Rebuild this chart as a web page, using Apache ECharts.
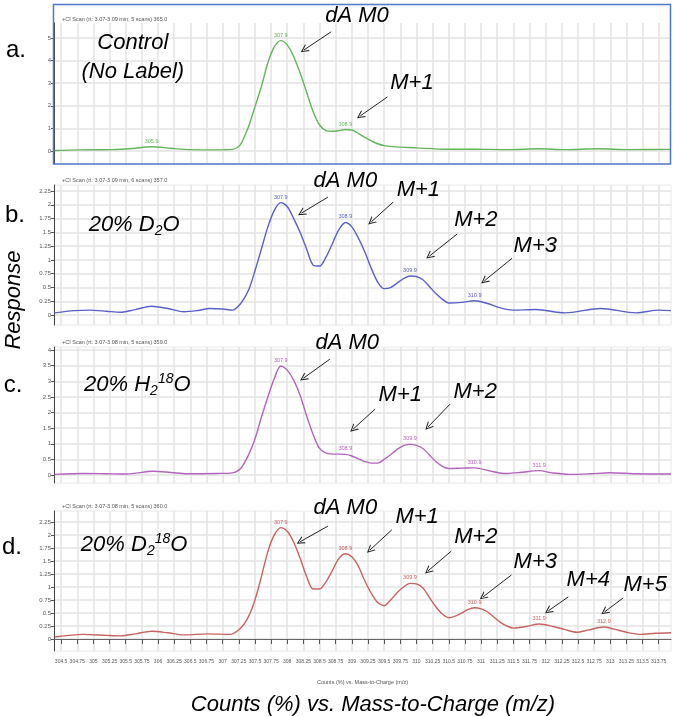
<!DOCTYPE html>
<html><head><meta charset="utf-8">
<script src="https://cdn.jsdelivr.net/npm/echarts@6/dist/echarts.min.js"></script>
<style>html,body{margin:0;padding:0;background:#fff}#c{width:675px;height:716px}</style>
</head><body><div id="c"></div><script>
// ---------- DATA ----------
const xTickLabels = ['304.5','304.75','305','305.25','305.5','305.75','306','306.25','306.5','306.75','307','307.25','307.5','307.75','308','308.25','308.5','308.75','309','309.25','309.5','309.75','310','310.25','310.5','310.75','311','311.25','311.5','311.75','312','312.25','312.5','312.75','313','313.25','313.5','313.75'];
const yTicksA = [0,1,2,3,4,5];
const yTicksB = [0,0.25,0.5,0.75,1,1.25,1.5,1.75,2,2.25];
const yTicksC = [0,0.5,1,1.5,2,2.5,3,3.5,4];
const yTicksD = [0,0.25,0.5,0.75,1,1.25,1.5,1.75,2,2.25];

// a. Control (No Label)
const mzA   = [304.4,304.8,305.3,305.6,305.9,306.2,306.5,306.9,307.15,307.25,307.3,307.4,307.5,307.6,307.7,307.8,307.9,308.0,308.1,308.2,308.3,308.4,308.5,308.6,308.7,308.8,308.9,309.0,309.1,309.2,309.3,309.4,309.5,309.7,310.0,310.4,310.9,311.4,311.9,312.3,312.8,313.3,313.94];
const respA = [0.02,0.05,0.06,0.11,0.19,0.12,0.06,0.05,0.07,0.2,0.4,1.07,1.95,2.85,3.9,4.6,4.88,4.69,4.17,3.45,2.6,1.75,1.15,0.9,0.87,0.9,0.95,0.93,0.78,0.6,0.45,0.32,0.24,0.18,0.14,0.08,0.08,0.06,0.1,0.06,0.1,0.06,0.07];
const peaksA = [305.9,307.9,308.9];

// b. 20% D2O
const mzB   = [304.4,304.7,304.95,305.2,305.42,305.65,305.9,306.15,306.4,306.6,306.8,307.0,307.15,307.28,307.4,307.5,307.6,307.7,307.8,307.9,308.0,308.1,308.2,308.3,308.4,308.5,308.6,308.7,308.8,308.9,309.0,309.1,309.2,309.3,309.4,309.5,309.6,309.7,309.8,309.9,310.0,310.1,310.2,310.3,310.4,310.5,310.7,310.9,311.1,311.3,311.5,311.85,312.3,312.85,313.4,313.75,313.94];
const respB = [0.04,0.08,0.09,0.07,0.05,0.1,0.16,0.12,0.06,0.08,0.12,0.11,0.09,0.21,0.45,0.8,1.2,1.6,1.9,2.04,1.97,1.75,1.5,1.2,0.91,0.89,1.05,1.3,1.55,1.68,1.6,1.4,1.15,0.85,0.6,0.48,0.5,0.58,0.66,0.71,0.7,0.64,0.52,0.39,0.29,0.22,0.23,0.26,0.21,0.13,0.09,0.1,0.04,0.12,0.04,0.09,0.08];
const peaksB = [307.9,308.9,309.9,310.9];

// c. 20% H2(18)O
const mzC   = [304.4,304.85,305.2,305.52,305.93,306.2,306.45,306.9,307.15,307.28,307.4,307.5,307.6,307.7,307.8,307.9,308.0,308.1,308.2,308.3,308.4,308.5,308.6,308.7,308.8,308.9,309.0,309.1,309.2,309.3,309.4,309.5,309.6,309.7,309.8,309.9,310.0,310.1,310.2,310.3,310.4,310.5,310.7,310.9,311.1,311.35,311.6,311.9,312.1,312.37,312.7,312.99,313.4,313.94];
const respC = [0.02,0.05,0.04,0.03,0.12,0.08,0.04,0.05,0.07,0.21,0.64,1.15,1.85,2.5,3.09,3.49,3.36,3.04,2.55,1.9,1.3,0.85,0.7,0.67,0.67,0.66,0.61,0.52,0.43,0.38,0.38,0.5,0.65,0.82,0.94,0.98,0.95,0.85,0.64,0.43,0.28,0.21,0.22,0.23,0.15,0.05,0.08,0.14,0.07,0.02,0.04,0.07,0.04,0.03];
const peaksC = [307.9,308.9,309.9,310.9,311.9];

// d. 20% D2(18)O
const mzD   = [304.4,304.84,305.2,305.42,305.65,305.9,306.15,306.4,306.77,307.12,307.28,307.4,307.5,307.6,307.7,307.8,307.9,308.0,308.1,308.2,308.3,308.4,308.5,308.6,308.7,308.8,308.9,309.0,309.1,309.2,309.3,309.4,309.5,309.6,309.7,309.8,309.9,310.0,310.1,310.2,310.3,310.4,310.5,310.6,310.7,310.8,310.9,311.0,311.1,311.2,311.3,311.4,311.5,311.7,311.9,312.12,312.3,312.48,312.65,312.9,313.06,313.25,313.46,313.7,313.94];
const respD = [0.04,0.09,0.07,0.06,0.1,0.15,0.12,0.08,0.1,0.09,0.21,0.43,0.75,1.2,1.68,2.0,2.14,2.07,1.86,1.55,1.2,0.96,0.96,1.1,1.32,1.55,1.64,1.58,1.4,1.12,0.88,0.7,0.64,0.75,0.89,1.0,1.07,1.06,0.98,0.8,0.62,0.48,0.41,0.44,0.5,0.57,0.6,0.58,0.52,0.42,0.32,0.25,0.21,0.24,0.29,0.24,0.18,0.13,0.17,0.23,0.19,0.13,0.09,0.11,0.12];
const peaksD = [307.9,308.9,309.9,310.9,311.9,312.9];

const scanTitles = [
  '+CI Scan (rt: 3.07-3.09 min, 5 scans) 365.0',
  '+CI Scan (rt: 3.07-3.09 min, 6 scans) 357.0',
  '+CI Scan (rt: 3.07-3.08 min, 5 scans) 359.0',
  '+CI Scan (rt: 3.07-3.08 min, 5 scans) 360.0'
];

// ---------- ANNOTATIONS (data coords) ----------
const annotations = [
  [ {f:'{t|Control}', at:[305.61,4.78]}, {f:'{t|(No Label)}', at:[305.61,3.5]},
    {f:'{t|dA M0}', at:[309.08,5.97]}, {f:'{t|M+1}', at:[309.93,3.01]} ],
  [ {f:'{t|20% D}{sub|2}{t|O}', at:[305.63,1.63]}, {f:'{t|dA M0}', at:[308.9,2.43]},
    {f:'{t|M+1}', at:[310.03,2.27]}, {f:'{t|M+2}', at:[310.92,1.72]}, {f:'{t|M+3}', at:[311.84,1.25]} ],
  [ {f:'{t|20% H}{sub|2}{sup|18}{t|O}', at:[305.68,2.88]}, {f:'{t|dA M0}', at:[308.93,4.22]},
    {f:'{t|M+1}', at:[309.75,2.56]}, {f:'{t|M+2}', at:[310.91,2.66]} ],
  [ {f:'{t|20% D}{sub|2}{sup|18}{t|O}', at:[305.63,1.81]}, {f:'{t|dA M0}', at:[308.9,2.52]},
    {f:'{t|M+1}', at:[310.01,2.35]}, {f:'{t|M+2}', at:[310.92,1.96]}, {f:'{t|M+3}', at:[311.84,1.48]},
    {f:'{t|M+4}', at:[312.66,1.13]}, {f:'{t|M+5}', at:[313.54,1.04]} ]
];
const arrows = [
  [[308.68,5.27,308.26,4.47],[309.55,2.39,309.13,1.55]],
  [[308.63,2.14,308.22,1.85],[309.64,2.05,309.3,1.69],[310.63,1.47,310.2,1.07],[311.48,1.03,311.05,0.62]],
  [[308.66,3.71,308.25,3.1],[309.36,2.11,309.02,1.47],[310.52,2.27,310.18,1.54]],
  [[308.63,2.17,308.2,1.87],[309.62,2.1,309.28,1.71],[310.54,1.69,310.18,1.31],[311.47,1.23,311.03,0.81],[312.35,0.81,312.04,0.54],[313.2,0.79,312.91,0.52]]
];

// ---------- LAYOUT ----------
const panels = [
  {mz:mzA, resp:respA, peaks:peaksA, ticks:yTicksA, color:'#63b55b', top:23,  height:141, min:-0.575, max:5.66},
  {mz:mzB, resp:respB, peaks:peaksB, ticks:yTicksB, color:'#5a60c6', top:185, height:140, min:-0.18,  max:2.36},
  {mz:mzC, resp:respC, peaks:peaksC, ticks:yTicksC, color:'#b462bd', top:347, height:136, min:-0.256, max:4.10},
  {mz:mzD, resp:respD, peaks:peaksD, ticks:yTicksD, color:'#c76461', top:511, height:140, min:-0.23,  max:2.46}
];
const xTickVals = xTickLabels.map(Number);
const smallFont = "'Liberation Sans Narrow','Liberation Sans',sans-serif";
const bigFont = "'Liberation Sans',Arial,sans-serif";
const gridColor = '#e3e3e3';
const chevron = 'path://M5,0 L10,10 L8.6,10 L5,2.8 L1.4,10 L0,10 Z';
const rich = {
  t:{fontSize:22, fontStyle:'italic', fontFamily:bigFont, color:'#000', lineHeight:26},
  sub:{fontSize:14, fontStyle:'italic', fontFamily:bigFont, color:'#000', lineHeight:14, verticalAlign:'bottom'},
  sup:{fontSize:14, fontStyle:'italic', fontFamily:bigFont, color:'#000', lineHeight:14, verticalAlign:'top'}
};

const grid = [], xAxis = [], yAxis = [], series = [], title = [];
panels.forEach((p, i) => {
  const last = i === 3;
  grid.push({left:54, right:4, top:p.top, height:p.height, show: i>0, borderColor:'#e8e8e8', borderWidth:1});
  xAxis.push({gridIndex:i, type:'value', min:304.39, max:313.94,
    name: last ? 'Counts (%) vs. Mass-to-Charge (m/z)' : '', nameLocation:'middle', nameGap:28,
    nameTextStyle:{fontSize:5.5, color:'#555', fontFamily:smallFont},
    axisLine:{show:last, lineStyle:{color:'#666', width:1}},
    axisTick:{show:last, length:5, customValues:xTickVals, lineStyle:{color:'#555'}},
    axisLabel:{show:last, customValues:xTickVals, fontSize:5, color:'#555', margin:8, fontFamily:smallFont,
      formatter:(v)=>xTickLabels[xTickVals.indexOf(v)] || String(v)},
    splitLine:{show:true, lineStyle:{color:gridColor, width:1.5}}
  });
  yAxis.push({gridIndex:i, type:'value', min:p.min, max:p.max,
    axisLine:{show:true, lineStyle:{color:'#444', width:1}},
    axisTick:{show:true, length:3, customValues:p.ticks, lineStyle:{color:'#555'}},
    axisLabel:{customValues:p.ticks, fontSize:6, color:'#555', margin:3, fontFamily:smallFont},
    splitLine:{show:true, lineStyle:{color:gridColor, width:1.5}}
  });
  title.push({text:scanTitles[i], left:57, top:p.top - (i===0?12:13), textStyle:{fontSize:5.5, color:'#555', fontWeight:'normal', fontFamily:smallFont}});
  const peakData = p.peaks.map(m => {
    const k = p.mz.indexOf(m);
    return {coord:[m, p.resp[k]], lbl:m.toFixed(1)};
  });
  series.push({type:'line', xAxisIndex:i, yAxisIndex:i, silent:true, clip:false,
    data:p.mz.map((m,k)=>[m, p.resp[k]]), showSymbol:false, smooth:0.3,
    lineStyle:{color:p.color, width:1.4}, itemStyle:{color:p.color},
    markPoint:{silent:true, symbol:'circle', symbolSize:1, itemStyle:{color:'rgba(0,0,0,0)'},
      label:{show:true, position:'top', distance:2, fontSize:5.5, color:p.color, fontFamily:smallFont,
        formatter:(q)=>q.data.lbl},
      data:peakData},
    markLine:{silent:true, symbol:['none', chevron], symbolSize:[8,8], animation:false,
      lineStyle:{color:'#222', width:1, type:'solid'}, label:{show:false},
      data:arrows[i].map(a => [{coord:[a[0],a[1]]},{coord:[a[2],a[3]]}])}
  });
  series.push({type:'scatter', xAxisIndex:i, yAxisIndex:i, silent:true, clip:false, symbolSize:0, z:5,
    itemStyle:{opacity:1, color:'#000'},
    data:annotations[i].map(a => ({value:a.at, label:{formatter:a.f}})),
    label:{show:true, position:'inside', color:'#000', opacity:1, rich:rich}
  });
});

const chart = echarts.init(document.getElementById('c'), null, {renderer:'canvas'});
chart.setOption({
  animation:false,
  backgroundColor:'#fff',
  title, grid, xAxis, yAxis, series,
  graphic:[
    {type:'rect', shape:{x:53.5, y:4.5, width:617, height:159.5}, style:{fill:'none', stroke:'#4f78c6', lineWidth:1.5}, z:10},
    {type:'text', x:16, y:50, style:{text:'a.', font:'24px '+bigFont, fill:'#000', textAlign:'center', textVerticalAlign:'middle'}},
    {type:'text', x:15, y:215, style:{text:'b.', font:'24px '+bigFont, fill:'#000', textAlign:'center', textVerticalAlign:'middle'}},
    {type:'text', x:13, y:385, style:{text:'c.', font:'24px '+bigFont, fill:'#000', textAlign:'center', textVerticalAlign:'middle'}},
    {type:'text', x:12, y:547, style:{text:'d.', font:'24px '+bigFont, fill:'#000', textAlign:'center', textVerticalAlign:'middle'}},
    {type:'text', x:14, y:300, rotation:Math.PI/2, style:{text:'Response', font:'italic 22px '+bigFont, fill:'#000', textAlign:'center', textVerticalAlign:'middle'}},
    {type:'text', x:373, y:705, style:{text:'Counts (%) vs. Mass-to-Charge (m/z)', font:'italic 22px '+bigFont, fill:'#000', textAlign:'center', textVerticalAlign:'middle'}}
  ]
});
</script></body></html>
